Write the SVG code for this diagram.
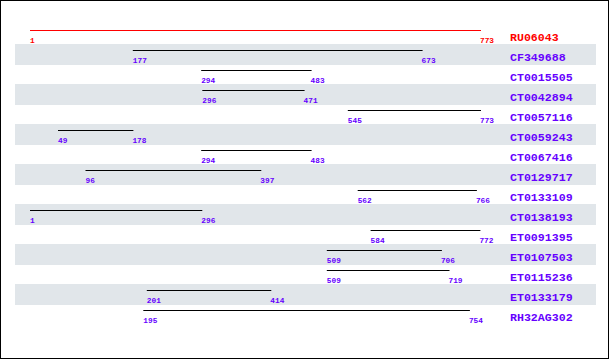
<svg xmlns="http://www.w3.org/2000/svg" width="610" height="360" viewBox="0 0 610 360">
<style>
.bg{fill:#ffffff}
.frame{fill:none;stroke:#000;stroke-width:1}
.band{fill:#e1e6ea}
.seg{stroke:#000;stroke-width:1}
.ref{stroke:#ff0000;stroke-width:1}
.num{font-family:"Liberation Mono","DejaVu Sans Mono",monospace;font-size:7.8px;font-weight:bold;fill:#6600ff}
.name{font-family:"Liberation Mono","DejaVu Sans Mono",monospace;font-size:11.6px;font-weight:bold;fill:#6600ff}
.red{fill:#ff0000}
</style>
<rect class="bg" x="0" y="0" width="610" height="360"/>
<rect class="frame" x="0.5" y="0.5" width="608" height="358"/>
<g id="bands">
<rect class="band" x="15" y="44" width="581" height="21"/>
<rect class="band" x="15" y="84" width="581" height="21"/>
<rect class="band" x="15" y="124" width="581" height="21"/>
<rect class="band" x="15" y="164" width="581" height="21"/>
<rect class="band" x="15" y="204" width="581" height="21"/>
<rect class="band" x="15" y="244" width="581" height="21"/>
<rect class="band" x="15" y="284" width="581" height="21"/>
</g>
<g id="RU06043">
<line class="ref" x1="30" y1="30.5" x2="481" y2="30.5"/>
<text class="num red" x="30" y="42.5">1</text><text class="num red" x="480" y="42.5">773</text>
<text class="name red" x="510" y="41">RU06043</text>
</g>
<g id="CF349688">
<line class="seg" x1="132.8" y1="50.5" x2="422.6" y2="50.5"/>
<text class="num" x="132.8" y="62.5">177</text><text class="num" x="421.6" y="62.5">673</text>
<text class="name" x="510" y="61">CF349688</text>
</g>
<g id="CT0015505">
<line class="seg" x1="201.2" y1="70.5" x2="311.6" y2="70.5"/>
<text class="num" x="201.2" y="82.5">294</text><text class="num" x="310.6" y="82.5">483</text>
<text class="name" x="510" y="81">CT0015505</text>
</g>
<g id="CT0042894">
<line class="seg" x1="202.3" y1="90.5" x2="304.6" y2="90.5"/>
<text class="num" x="202.3" y="102.5">296</text><text class="num" x="303.6" y="102.5">471</text>
<text class="name" x="510" y="101">CT0042894</text>
</g>
<g id="CT0057116">
<line class="seg" x1="347.8" y1="110.5" x2="481" y2="110.5"/>
<text class="num" x="347.8" y="122.5">545</text><text class="num" x="480" y="122.5">773</text>
<text class="name" x="510" y="121">CT0057116</text>
</g>
<g id="CT0059243">
<line class="seg" x1="58" y1="130.5" x2="133.4" y2="130.5"/>
<text class="num" x="58" y="142.5">49</text><text class="num" x="132.4" y="142.5">178</text>
<text class="name" x="510" y="141">CT0059243</text>
</g>
<g id="CT0067416">
<line class="seg" x1="201.2" y1="150.5" x2="311.6" y2="150.5"/>
<text class="num" x="201.2" y="162.5">294</text><text class="num" x="310.6" y="162.5">483</text>
<text class="name" x="510" y="161">CT0067416</text>
</g>
<g id="CT0129717">
<line class="seg" x1="85.5" y1="170.5" x2="261.3" y2="170.5"/>
<text class="num" x="85.5" y="182.5">96</text><text class="num" x="260.3" y="182.5">397</text>
<text class="name" x="510" y="181">CT0129717</text>
</g>
<g id="CT0133109">
<line class="seg" x1="357.7" y1="190.5" x2="476.9" y2="190.5"/>
<text class="num" x="357.7" y="202.5">562</text><text class="num" x="475.9" y="202.5">766</text>
<text class="name" x="510" y="201">CT0133109</text>
</g>
<g id="CT0138193">
<line class="seg" x1="30" y1="210.5" x2="202.3" y2="210.5"/>
<text class="num" x="30" y="222.5">1</text><text class="num" x="201.3" y="222.5">296</text>
<text class="name" x="510" y="221">CT0138193</text>
</g>
<g id="ET0091395">
<line class="seg" x1="370.6" y1="230.5" x2="480.4" y2="230.5"/>
<text class="num" x="370.6" y="242.5">584</text><text class="num" x="479.4" y="242.5">772</text>
<text class="name" x="510" y="241">ET0091395</text>
</g>
<g id="ET0107503">
<line class="seg" x1="326.8" y1="250.5" x2="441.9" y2="250.5"/>
<text class="num" x="326.8" y="262.5">509</text><text class="num" x="440.9" y="262.5">706</text>
<text class="name" x="510" y="261">ET0107503</text>
</g>
<g id="ET0115236">
<line class="seg" x1="326.8" y1="270.5" x2="449.5" y2="270.5"/>
<text class="num" x="326.8" y="282.5">509</text><text class="num" x="448.5" y="282.5">719</text>
<text class="name" x="510" y="281">ET0115236</text>
</g>
<g id="ET0133179">
<line class="seg" x1="146.8" y1="290.5" x2="271.3" y2="290.5"/>
<text class="num" x="146.8" y="302.5">201</text><text class="num" x="270.3" y="302.5">414</text>
<text class="name" x="510" y="301">ET0133179</text>
</g>
<g id="RH32AG302">
<line class="seg" x1="143.3" y1="310.5" x2="469.9" y2="310.5"/>
<text class="num" x="143.3" y="322.5">195</text><text class="num" x="468.9" y="322.5">754</text>
<text class="name" x="510" y="321">RH32AG302</text>
</g>
<g id="connectors"></g>
</svg>
